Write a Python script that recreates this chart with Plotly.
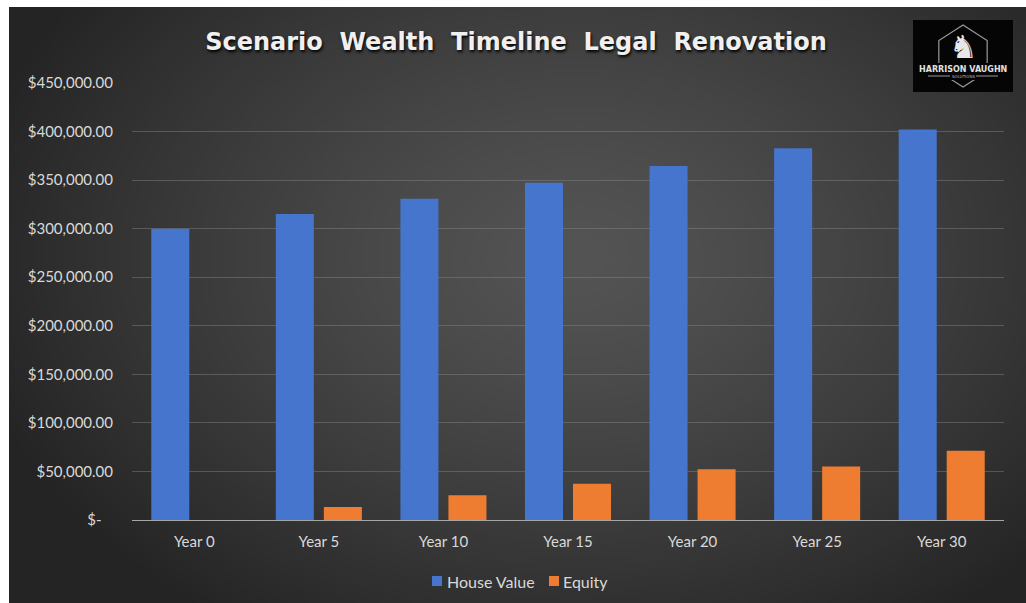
import base64
import struct
import zlib

import numpy as np
import plotly.graph_objects as go

# ---------------- data ----------------
categories = ["Year 0", "Year 5", "Year 10", "Year 15", "Year 20", "Year 25", "Year 30"]
series_names = ["House Value", "Equity"]
house_value = [300000, 315000, 330750, 347288, 364652, 382884, 402029]
equity = [0, 13500, 25500, 37200, 52300, 55200, 71200]
y_tick_vals = [0, 50000, 100000, 150000, 200000, 250000, 300000, 350000, 400000, 450000]
y_tick_text = ["$-\u00a0\u00a0\u00a0", "$50,000.00", "$100,000.00", "$150,000.00", "$200,000.00",
               "$250,000.00", "$300,000.00", "$350,000.00", "$400,000.00", "$450,000.00"]
title_text = "Scenario\u00a0 Wealth\u00a0 Timeline\u00a0 Legal\u00a0 Renovation"
series_colors = ["#4575cc", "#ee7d31"]

# ---------------- layout geometry ----------------
W, H = 1026, 603
ML, MR, MT, MB = 132, 22, 83, 83
PW, PH = W - ML - MR, H - MT - MB


def px_to_paper_x(px):
    return (px - ML) / PW


def px_to_paper_y(py):
    return (H - MB - py) / PH


# ---------------- radial gradient background (PNG data URI) ----------------
def make_png(arr):
    h, w, _ = arr.shape
    raw = b"".join(b"\x00" + arr[r].tobytes() for r in range(h))

    def chunk(tag, data):
        c = struct.pack(">I", len(data)) + tag + data
        return c + struct.pack(">I", zlib.crc32(tag + data) & 0xFFFFFFFF)

    png = b"\x89PNG\r\n\x1a\n"
    png += chunk(b"IHDR", struct.pack(">IIBBBBB", w, h, 8, 2, 0, 0, 0))
    png += chunk(b"IDAT", zlib.compress(raw, 9))
    png += chunk(b"IEND", b"")
    return "data:image/png;base64," + base64.b64encode(png).decode()


gw, gh = 340, 200
xx, yy = np.meshgrid(np.linspace(0, 1, gw), np.linspace(0, 1, gh))
d = np.sqrt(((xx - 0.56) / 0.62) ** 2 + ((yy - 0.42) / 0.75) ** 2)
d = np.clip(d, 0, 1)
inner, outer = 84.0, 36.0
val = outer + (inner - outer) * (1 - d ** 1.3)
img = np.stack([val, val, val], axis=-1).clip(0, 255).astype(np.uint8)
bg_src = make_png(img)

fig = go.Figure()

fig.add_trace(go.Bar(
    name=series_names[0], x=categories, y=house_value,
    marker=dict(color=series_colors[0], line=dict(width=0)),
))
fig.add_trace(go.Bar(
    name=series_names[1], x=categories, y=equity,
    marker=dict(color=series_colors[1], line=dict(width=0)),
))

font_family = "Lato, 'Open Sans', sans-serif"

fig.update_layout(
    width=W, height=H,
    margin=dict(l=ML, r=MR, t=MT, b=MB, pad=0),
    paper_bgcolor="#242424",
    plot_bgcolor="rgba(0,0,0,0)",
    barmode="group",
    bargap=0.229,
    bargroupgap=0.208,
    showlegend=False,
    title=dict(
        text=title_text,
        x=516 / W, xanchor="center",
        y=1 - 42 / H, yanchor="middle",
        font=dict(family="'DejaVu Sans', sans-serif", size=24, color="#f0f0f0",
                  weight="bold", shadow="1px 2px 3px #000000"),
    ),
    xaxis=dict(
        showgrid=False,
        showline=True, linecolor="#a6a6a6", linewidth=1,
        ticks="", tickfont=dict(family=font_family, size=15, color="#d9d9d9"),
        ticklabelstandoff=8,
        fixedrange=True,
    ),
    yaxis=dict(
        range=[0, 450000],
        tickvals=y_tick_vals, ticktext=y_tick_text,
        showgrid=True, gridcolor="rgba(140,140,140,0.42)", gridwidth=1,
        zeroline=False, showline=False,
        ticks="", tickfont=dict(family=font_family, size=15, color="#d9d9d9"),
        ticklabelstandoff=18,
        fixedrange=True,
    ),
    font=dict(family=font_family, color="#d9d9d9"),
    images=[dict(
        source=bg_src, xref="paper", yref="paper",
        x=px_to_paper_x(9), y=px_to_paper_y(7),
        sizex=(W - 9) / PW, sizey=(H - 7) / PH,
        xanchor="left", yanchor="top", sizing="stretch", layer="below",
    )],
)

shapes = []
# white frame strips (top and left) of the photographed chart
shapes.append(dict(type="rect", xref="paper", yref="paper",
                   x0=px_to_paper_x(-5), x1=px_to_paper_x(W + 5),
                   y0=px_to_paper_y(7), y1=px_to_paper_y(-5),
                   fillcolor="#ffffff", line=dict(width=0), layer="above"))
shapes.append(dict(type="rect", xref="paper", yref="paper",
                   x0=px_to_paper_x(-5), x1=px_to_paper_x(9),
                   y0=px_to_paper_y(H + 5), y1=px_to_paper_y(-5),
                   fillcolor="#ffffff", line=dict(width=0), layer="above"))

# ---------------- manual legend ----------------
legend_items = [(432, 447), (549, 563)]
for (sq_x, tx), name, col in zip(legend_items, series_names, series_colors):
    shapes.append(dict(type="rect", xref="paper", yref="paper",
                       x0=px_to_paper_x(sq_x), x1=px_to_paper_x(sq_x + 10),
                       y0=px_to_paper_y(586), y1=px_to_paper_y(576),
                       fillcolor=col, line=dict(width=0), layer="above"))
    fig.add_annotation(text=name, xref="paper", yref="paper",
                       x=px_to_paper_x(tx - 2), y=px_to_paper_y(581),
                       xanchor="left", yanchor="middle", showarrow=False,
                       font=dict(family=font_family, size=16, color="#d9d9d9"))

# ---------------- logo (top right) ----------------
lx0, ly0, lx1, ly1 = 913, 20, 1013, 92
shapes.append(dict(type="rect", xref="paper", yref="paper",
                   x0=px_to_paper_x(lx0), x1=px_to_paper_x(lx1),
                   y0=px_to_paper_y(ly1), y1=px_to_paper_y(ly0),
                   fillcolor="#050505", line=dict(width=0), layer="above"))
cx, cy, r = 963, 56, 31
hex_pts = []
for k in range(6):
    ang = np.deg2rad(90 + 60 * k)
    hex_pts.append((cx + r * np.cos(ang) * 0.9, cy - r * np.sin(ang)))
path = "M " + " L ".join(f"{px_to_paper_x(p[0])},{px_to_paper_y(p[1])}" for p in hex_pts) + " Z"
shapes.append(dict(type="path", xref="paper", yref="paper", path=path,
                   line=dict(color="#9a9a9a", width=1.2), fillcolor="rgba(0,0,0,0)", layer="above"))
# cover hex behind text band
shapes.append(dict(type="rect", xref="paper", yref="paper",
                   x0=px_to_paper_x(915), x1=px_to_paper_x(1011),
                   y0=px_to_paper_y(80), y1=px_to_paper_y(63),
                   fillcolor="#050505", line=dict(width=0), layer="above"))
# thin lines around SOLUTIONS
for a, b in [(928, 950), (976, 998)]:
    shapes.append(dict(type="line", xref="paper", yref="paper",
                       x0=px_to_paper_x(a), x1=px_to_paper_x(b),
                       y0=px_to_paper_y(76), y1=px_to_paper_y(76),
                       line=dict(color="#9a9a9a", width=1), layer="above"))
fig.update_layout(shapes=shapes)

fig.add_annotation(text="\u265e", xref="paper", yref="paper",
                   x=px_to_paper_x(cx), y=px_to_paper_y(47), xanchor="center", yanchor="middle",
                   showarrow=False, font=dict(family="DejaVu Sans", size=32, color="#e8e8e8"))
fig.add_annotation(text="<b>HARRISON VAUGHN</b>", xref="paper", yref="paper",
                   x=px_to_paper_x(cx), y=px_to_paper_y(69), xanchor="center", yanchor="middle",
                   showarrow=False, font=dict(family="DejaVu Sans", size=8, color="#e0e0e0"))
fig.add_annotation(text="SOLUTIONS", xref="paper", yref="paper",
                   x=px_to_paper_x(cx), y=px_to_paper_y(76.5), xanchor="center", yanchor="middle",
                   showarrow=False, font=dict(family="DejaVu Sans", size=4, color="#bbbbbb"))

fig.write_html("out.html")
